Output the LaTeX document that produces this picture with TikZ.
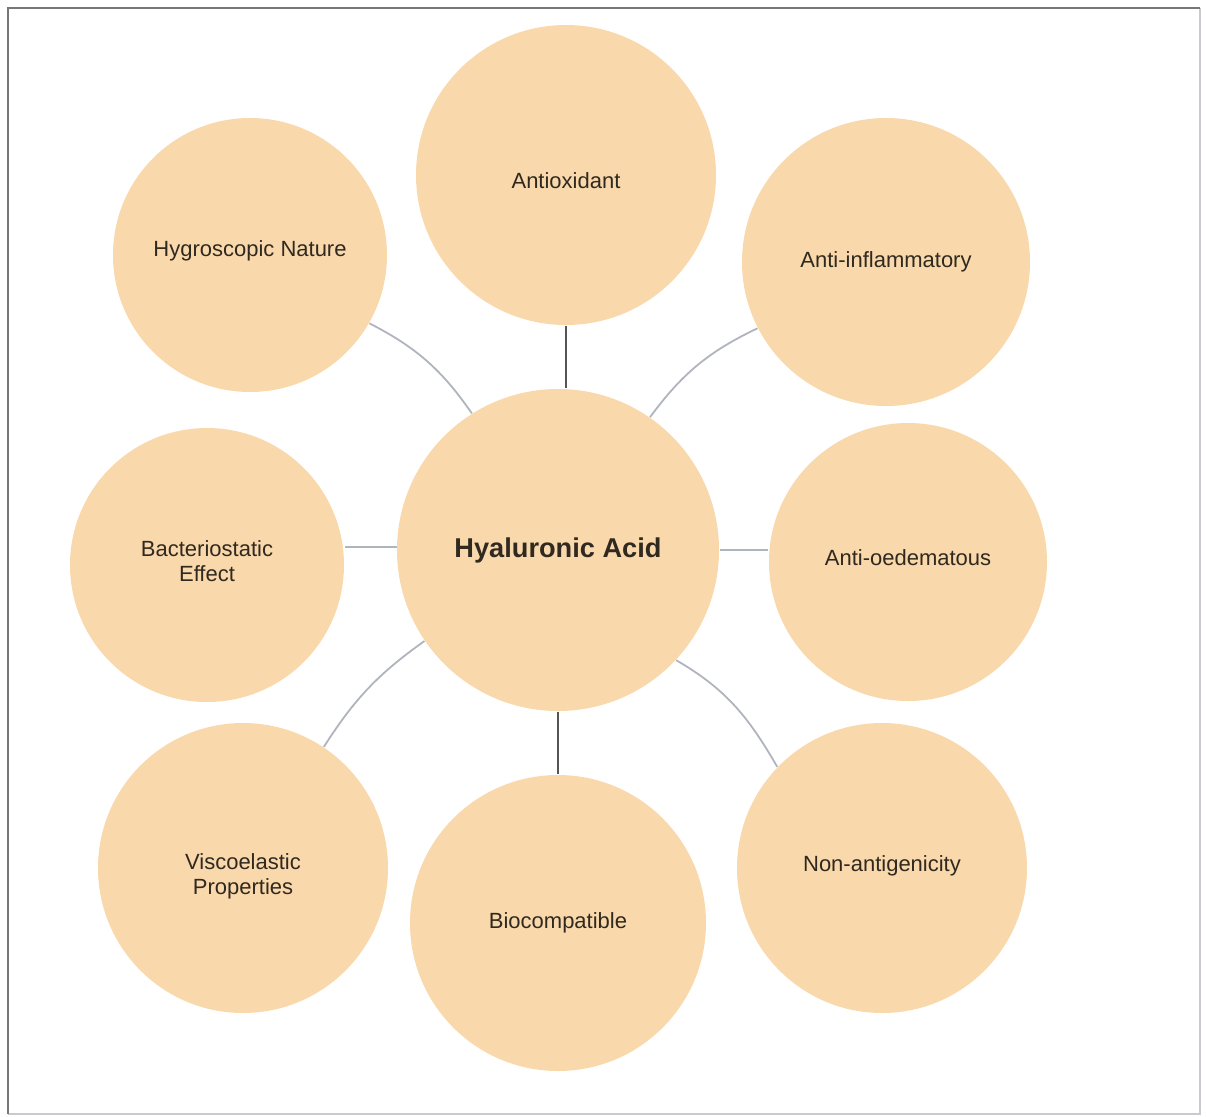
\documentclass[tikz,border=0pt]{standalone}
\usepackage{fontspec}
\setmainfont{Liberation Sans}
\usetikzlibrary{positioning}

\definecolor{peach}{RGB}{249,216,172}
\definecolor{inkbrown}{RGB}{48,41,31}
\definecolor{linkgray}{RGB}{176,180,188}
\definecolor{linkdark}{RGB}{85,85,85}

\begin{document}
\begin{tikzpicture}[x=0.5pt,y=-0.5pt,semithick,
                    txt/.style={align=center,text=inkbrown,inner sep=0pt,
                                font=\fontsize{11}{12.5}\selectfont},
                    prop/.style={circle,fill=peach,inner sep=0pt},
                    hub/.style={prop,text=inkbrown,font=\fontsize{13.6}{15}\selectfont\bfseries},
                    soft/.style={draw=linkgray,line width=0.9pt},
                    hard/.style={draw=linkdark,line width=1.4pt}]

  % frame
  \useasboundingbox (0,0) rectangle (1206,1116);
  \draw[linkgray!70,line width=0.6pt] (1200,8) -- (1200,1114) -- (8,1114);
  \draw[linkdark!80,line width=1pt] (8,1114) -- (8,8) -- (1200,8);

  % circles
  \node[hub,minimum size=161pt](ha) at (558,550)      {Hyaluronic Acid};
  \node[prop,minimum size=150pt,label={[txt,yshift=-3pt]center:Antioxidant}](ao) at (566,175) {};
  \node[prop,minimum size=137pt,label={[txt,yshift=2pt]center:Hygroscopic Nature}](hn) at (250,255) {};
  \node[prop,minimum size=144pt,label={[txt]center:Anti-inflammatory}](ai) at (886,262) {};
  \node[prop,minimum size=137pt,label={[txt,yshift=2pt]center:Bacteriostatic\\Effect}](be) at (207,565) {};
  \node[prop,minimum size=139pt,label={[txt,yshift=2pt]center:Anti-oedematous}](oe) at (908,562) {};
  \node[prop,minimum size=145pt,label={[txt,yshift=-4pt]center:Viscoelastic\\Properties}](vp) at (243,868) {};
  \node[prop,minimum size=148pt,label={[txt]center:Biocompatible}](bc) at (558,923) {};
  \node[prop,minimum size=145pt,label={[txt,yshift=1pt]center:Non-antigenicity}](na) at (882,868) {};

  \coordinate (beR) at (345,547);
  \coordinate (haL) at (397,547);

  % links
  \path[hard] (ao.south) -- (ao.south |- ha.north);
  \path[hard] (ha.south) -- (bc);
  \path[soft] (beR) -- (haL);
  \path[soft] (ha.east) -- (ha.east -| oe.west);
  \path[soft] (hn) edge [bend left=14]  (ha);
  \path[soft] (ha) edge [bend left=14]  (ai);
  \path[soft] (ha) edge [bend right=11] (vp);
  \path[soft] (ha.-43) edge [out=-30,in=120] (na.136);

\end{tikzpicture}
\end{document}
